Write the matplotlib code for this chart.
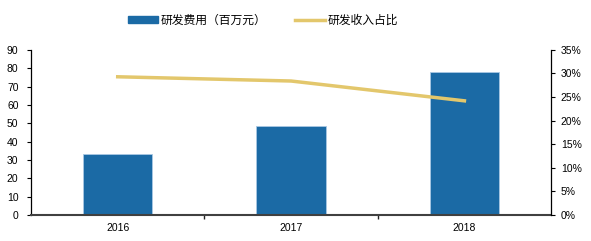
import matplotlib
matplotlib.use("Agg")
import matplotlib.pyplot as plt
from matplotlib.ticker import FuncFormatter
from matplotlib.lines import Line2D
from matplotlib.patches import Patch

plt.rcParams['font.family'] = ['Liberation Sans', 'Noto Sans CJK SC', 'DejaVu Sans']

years = ['2016', '2017', '2018']
rd_expense = [33.5, 48.5, 78.0]
rd_ratio = [29.3, 28.4, 24.2]

bar_color = '#1B6AA5'
line_color = '#E3C76C'

fig = plt.figure(figsize=(5.91, 2.41), dpi=100)
ax = fig.add_axes([0.0525, 0.108, 0.88, 0.685])
x = list(range(len(years)))
ax.bar(x, rd_expense, width=0.4, color=bar_color, edgecolor='#A9C8E3', linewidth=0.6, zorder=2)
ax.set_xlim(-0.5, 2.5)
ax.set_ylim(0, 90)
ax.set_yticks(range(0, 91, 10))
ax.set_xticks(x)
ax.set_xticklabels(years)
ax.set_xticks([0.5, 1.5], minor=True)
ax.tick_params(axis='x', which='major', length=0, labelsize=7.5, pad=6)
ax.tick_params(axis='x', which='minor', length=3, width=1, color='#222222', direction='out')
ax.tick_params(axis='y', length=3, width=0.8, labelsize=7.5, direction='out', pad=6)
for s in ['top', 'right']:
    ax.spines[s].set_visible(False)
ax.spines['left'].set_color('black')
ax.spines['left'].set_linewidth(0.9)
ax.spines['bottom'].set_color('#404040')
ax.spines['bottom'].set_linewidth(1.5)
ax.spines['bottom'].set_zorder(5)

ax2 = ax.twinx()
ax2.plot(x, rd_ratio, color=line_color, linewidth=2.5, zorder=3)
ax2.set_ylim(0, 35)
ax2.set_yticks(range(0, 36, 5))
ax2.yaxis.set_major_formatter(FuncFormatter(lambda v, p: f'{int(v)}%'))
ax2.tick_params(axis='y', length=3, width=0.8, labelsize=7.5, direction='out', pad=4)
for s in ['top', 'left', 'bottom']:
    ax2.spines[s].set_visible(False)
ax2.spines['right'].set_color('black')
ax2.spines['right'].set_linewidth(0.9)

handles = [Patch(facecolor=bar_color, edgecolor=bar_color),
           Line2D([0], [0], color=line_color, linewidth=2.5)]
labels = ['研发费用（百万元）', '研发收入占比']
fig.legend(handles, labels, loc='center', bbox_to_anchor=(0.445, 0.915), ncol=2,
           frameon=False, prop={'family': ['Noto Sans CJK SC'], 'size': 8.5},
           handlelength=2.6, handleheight=0.5, columnspacing=2.4, handletextpad=0.2)

fig.savefig('out.png', dpi=100)
